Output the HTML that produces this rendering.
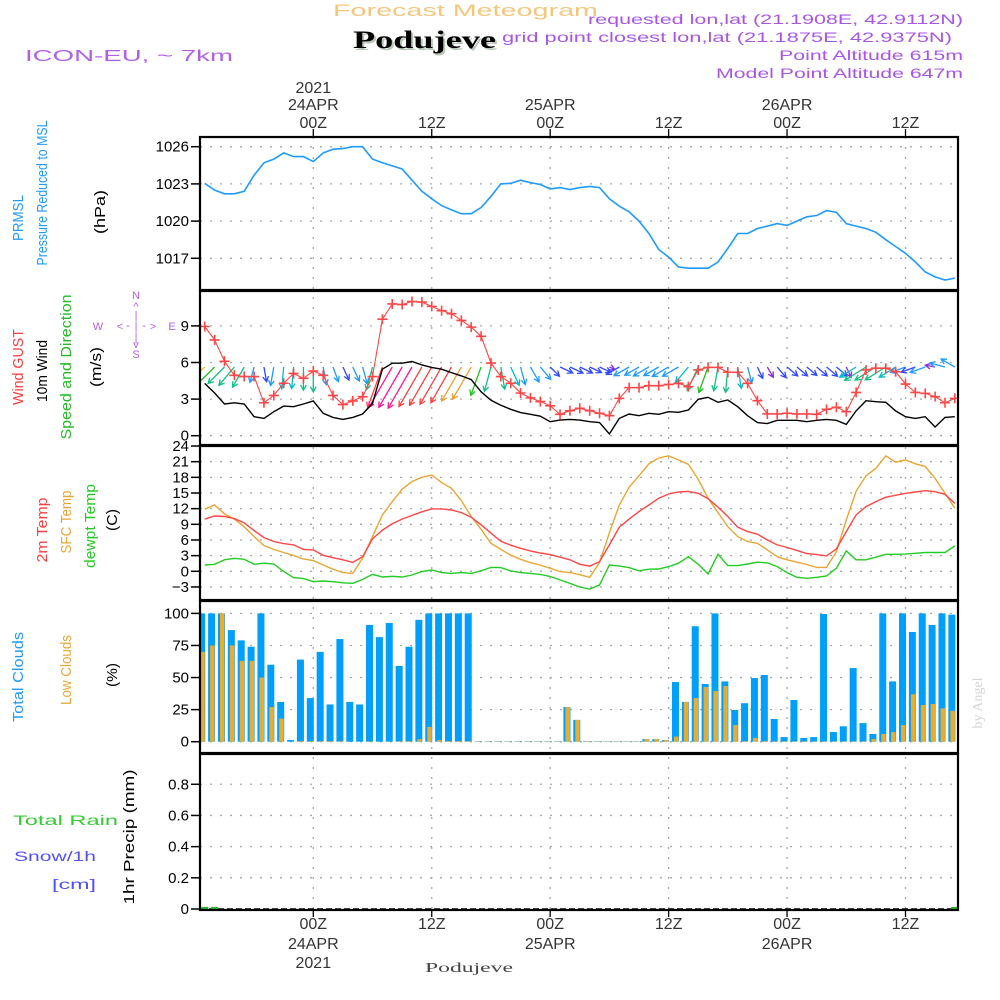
<!DOCTYPE html>
<html><head><meta charset="utf-8"><title>Forecast Meteogram Podujeve</title>
<style>
html,body{margin:0;padding:0;background:#fff;}
svg{display:block;font-family:"Liberation Sans",sans-serif;}
</style></head>
<body>
<svg id="chart" width="1000" height="1000" viewBox="0 0 1000 1000" xmlns="http://www.w3.org/2000/svg">
<rect x="0" y="0" width="1000" height="1000" fill="#fff"/>
<text x="333" y="16" font-size="17" fill="#f5c67e" textLength="265" lengthAdjust="spacingAndGlyphs">Forecast Meteogram</text>
<text x="355" y="50" font-size="25" font-weight="bold" font-family="Liberation Serif,serif" fill="#b9c9b9" textLength="143" lengthAdjust="spacingAndGlyphs">Podujeve</text>
<text x="353" y="48" font-size="25" font-weight="bold" font-family="Liberation Serif,serif" fill="#000" textLength="143" lengthAdjust="spacingAndGlyphs">Podujeve</text>
<text x="25" y="61" font-size="16" fill="#b060e8" textLength="208" lengthAdjust="spacingAndGlyphs">ICON-EU, ~ 7km</text>
<text x="588" y="24" font-size="14" fill="#a855e8" textLength="375" lengthAdjust="spacingAndGlyphs">requested lon,lat (21.1908E, 42.9112N)</text>
<text x="502" y="42" font-size="14" fill="#a855e8" textLength="450" lengthAdjust="spacingAndGlyphs">grid point closest lon,lat (21.1875E, 42.9375N)</text>
<text x="779" y="60" font-size="14" fill="#a855e8" textLength="184" lengthAdjust="spacingAndGlyphs">Point Altitude 615m</text>
<text x="716" y="78" font-size="14" fill="#a855e8" textLength="247" lengthAdjust="spacingAndGlyphs">Model Point Altitude 647m</text>

<!-- left labels -->
<g font-size="15" text-anchor="middle">
<text transform="translate(23,218) rotate(-90)" fill="#1e9bff" textLength="46" lengthAdjust="spacingAndGlyphs">PRMSL</text>
<text transform="translate(47,193) rotate(-90)" fill="#1e9bff" textLength="145" lengthAdjust="spacingAndGlyphs">Pressure Reduced to MSL</text>
<text transform="translate(105,212) rotate(-90)" fill="#000" textLength="44" lengthAdjust="spacingAndGlyphs">(hPa)</text>
<text transform="translate(23,367) rotate(-90)" fill="#ff3b3b" textLength="76" lengthAdjust="spacingAndGlyphs">Wind GUST</text>
<text transform="translate(47,371) rotate(-90)" fill="#000" textLength="62" lengthAdjust="spacingAndGlyphs">10m Wind</text>
<text transform="translate(71,367) rotate(-90)" fill="#22bb22" textLength="145" lengthAdjust="spacingAndGlyphs">Speed and Direction</text>
<text transform="translate(101,367) rotate(-90)" fill="#000" textLength="40" lengthAdjust="spacingAndGlyphs">(m/s)</text>
<text transform="translate(47,530) rotate(-90)" fill="#ff3b3b" textLength="65" lengthAdjust="spacingAndGlyphs">2m Temp</text>
<text transform="translate(71,522) rotate(-90)" fill="#eaa632" textLength="63" lengthAdjust="spacingAndGlyphs">SFC Temp</text>
<text transform="translate(95,526) rotate(-90)" fill="#22cc22" textLength="84" lengthAdjust="spacingAndGlyphs">dewpt Temp</text>
<text transform="translate(117,520) rotate(-90)" fill="#000" textLength="22" lengthAdjust="spacingAndGlyphs">(C)</text>
<text transform="translate(23,677) rotate(-90)" fill="#1e9bff" textLength="90" lengthAdjust="spacingAndGlyphs">Total Clouds</text>
<text transform="translate(71,670) rotate(-90)" fill="#eaa632" textLength="70" lengthAdjust="spacingAndGlyphs">Low Clouds</text>
<text transform="translate(117,675) rotate(-90)" fill="#000" textLength="24" lengthAdjust="spacingAndGlyphs">(%)</text>
<text transform="translate(134,837) rotate(-90)" fill="#000" textLength="135" lengthAdjust="spacingAndGlyphs">1hr Precip (mm)</text>
</g>
<text x="13" y="825" font-size="14" fill="#33cc33" textLength="105" lengthAdjust="spacingAndGlyphs">Total   Rain</text>
<text x="14" y="861" font-size="14" fill="#5050ff" textLength="82" lengthAdjust="spacingAndGlyphs">Snow/1h</text>
<text x="52" y="889" font-size="14" fill="#5050ff" textLength="44" lengthAdjust="spacingAndGlyphs">[cm]</text>
<g font-size="11" fill="#b060e8" text-anchor="middle">
<text x="136" y="299">N</text><text x="136" y="310">^</text><text x="136" y="319">|</text>
<text x="98" y="330">W</text><text x="120" y="330">&lt;</text><text x="128" y="329">-</text><text x="136" y="330">|</text><text x="144" y="329">-</text><text x="153" y="330">&gt;</text><text x="172" y="330">E</text>
<text x="136" y="341">|</text><text x="136" y="348">v</text><text x="136" y="358">S</text>
</g>
<text transform="translate(982,703) rotate(-90)" font-size="14" font-family="Liberation Serif,serif" fill="#d4d4d4" text-anchor="middle">by Angel</text>
<text x="425" y="972" font-size="14" font-family="Liberation Serif,serif" fill="#444" textLength="88" lengthAdjust="spacingAndGlyphs">Podujeve</text>
<g id="dyn"></g>
</svg>
<script>
// ---- data (hourly, starting 23APR 13Z) ----
const pressure=[1023.05,1022.5,1022.2,1022.2,1022.4,1023.7,1024.7,1025.0,1025.5,1025.2,1025.2,1024.8,1025.5,1025.8,1025.85,1026,1026,1025.0,1024.7,1024.45,1024.2,1023.3,1022.4,1021.8,1021.25,1020.9,1020.6,1020.6,1021.1,1022.0,1023.0,1023.05,1023.3,1023.1,1022.95,1022.6,1022.7,1022.55,1022.7,1022.8,1022.7,1021.8,1021.2,1020.75,1020.0,1019.0,1017.7,1017.1,1016.3,1016.2,1016.2,1016.2,1016.7,1017.8,1019.0,1019.0,1019.4,1019.6,1019.8,1019.65,1020.0,1020.35,1020.45,1020.85,1020.7,1019.8,1019.6,1019.4,1019.1,1018.5,1017.95,1017.4,1016.7,1015.9,1015.5,1015.25,1015.4];
const gust=[8.95,7.85,6.1,4.95,4.85,4.85,2.7,3.3,4.3,5.1,4.7,5.3,4.95,3.3,2.55,2.85,3.2,4.85,9.55,10.8,10.75,11.0,10.95,10.6,10.25,10.0,9.45,8.9,8.15,5.95,4.85,4.3,3.5,3.1,2.8,2.45,1.75,2.05,2.25,2.05,1.84,1.64,3.06,3.94,3.94,4.1,4.1,4.2,4.29,4.02,5.39,5.6,5.6,5.2,5.2,4.29,2.87,1.78,1.78,1.84,1.78,1.78,1.75,2.16,2.33,1.97,3.55,5.39,5.53,5.53,5.25,4.23,3.55,3.47,3.2,2.7,3.06];
const wind=[4.29,3.5,2.6,2.7,2.6,1.56,1.42,1.97,2.43,2.38,2.6,2.85,1.84,1.5,1.34,1.5,1.78,2.65,5.45,5.94,5.94,6.08,5.8,5.6,5.45,5.17,4.9,4.6,3.6,2.9,2.5,2.16,1.89,1.75,1.6,1.15,1.28,1.34,1.28,1.15,1.07,0.14,1.42,1.78,1.64,1.84,1.75,1.97,1.92,2.11,2.98,3.15,2.74,2.93,2.38,1.64,1.07,0.99,1.26,1.26,1.26,1.15,1.26,1.34,1.26,0.93,2.03,2.87,2.79,2.74,2.03,1.56,1.42,1.56,0.71,1.5,1.56];
const windDir=[50,45,45,40,30,15,350,10,5,5,0,0,350,340,335,335,345,15,20,30,30,30,30,30,30,30,30,30,20,15,350,335,345,330,320,315,295,295,295,295,295,295,60,60,60,60,60,60,60,40,25,20,10,5,350,345,335,330,320,310,310,310,310,310,310,335,58,58,58,58,58,70,70,70,100,105,120];
const temp2m=[10.0,10.6,10.5,10.1,9.3,7.8,6.45,5.7,5.3,5.05,4.2,4.1,3.07,2.6,2.2,1.7,2.8,6.2,7.9,9.1,10.0,10.7,11.4,11.95,11.95,11.75,11.25,10.35,8.9,7.3,5.75,5.0,4.4,3.9,3.5,3.2,2.7,2.2,1.35,1.0,1.85,5.05,8.45,10.0,11.45,12.7,14.0,14.8,15.2,15.3,14.95,13.9,12.3,10.5,8.45,7.6,7.1,6.0,5.05,4.55,4.0,3.4,3.2,2.95,4.3,7.6,10.8,12.4,13.35,14.2,14.55,14.95,15.2,15.45,15.25,14.75,13.0];
const tempSfc=[11.9,12.7,11.0,10.0,8.55,6.65,4.9,4.2,3.6,3.0,2.35,2.05,1.2,0.4,-0.25,-0.4,2.5,6.65,10.8,13.35,15.7,17.2,18.0,18.45,17.0,15.9,13.5,10.5,8.05,5.35,4.2,3.1,2.3,1.65,1.2,0.6,-0.05,-0.25,-0.65,-1.15,1.65,7.4,12.7,16.1,18.3,20.6,21.7,22.1,21.35,20.5,17.6,14.0,11.25,8.55,6.65,5.7,5.35,4.1,2.8,2.2,1.75,1.3,0.75,0.75,3.75,9.85,15.3,18.3,19.75,22.1,20.9,21.35,20.6,20.1,17.8,14.95,12.1];
const dewpt=[1.2,1.35,2.2,2.5,2.3,1.35,1.55,1.4,-0.05,-1.2,-1.4,-2.0,-1.85,-2.0,-2.2,-2.3,-1.55,-0.6,-1.1,-0.95,-1.1,-0.7,-0.05,0.25,-0.25,-0.4,-0.25,-0.4,0.1,0.75,0.7,0.05,-0.25,-0.4,-0.6,-1.0,-1.65,-2.3,-3.0,-3.4,-2.6,1.2,1.0,0.7,0.1,0.4,0.45,0.9,1.55,2.8,1.35,-0.5,3.25,1.1,1.1,1.4,1.75,1.6,0.9,-0.25,-1.15,-1.35,-1.15,-0.9,0.6,3.9,2.2,2.2,2.7,3.25,3.25,3.3,3.45,3.6,3.6,3.6,4.85];
const totalClouds=[100,100,100,87,79,74,100,60,31,1.3,64,34,70,29,80,31,29,91,81.5,92.5,59,74,95,100,100,100,100,100,0.3,0.3,0.3,0.3,0.3,0.3,0.3,0.3,0.3,27,17,0.5,0.3,0.3,0.3,0.3,0.3,2,2,1.3,46.5,31,90,45,100,47,24.7,30,49.6,52,17.7,3.6,32.5,2.9,3.6,99.5,7.5,12,57.4,14.5,6,100,47,100,85.5,100,91,100,99];
const lowClouds=[70,75,100,75,63,63,50,27,18,0,0.5,0.5,0.5,0.5,0.5,0,0,0.3,0,0,0.5,0.5,2,11.5,1.3,0.5,0.5,0.5,0.3,0.3,0.3,0.3,0.3,0.3,0.3,0.3,0.3,27,17,0.5,0.3,0.3,0.3,0.3,0.3,2,2,1.3,4,31,34,42.6,39.5,43.4,13,0.5,3,0.5,0.3,0.3,0.3,0.3,0.3,0.3,0.3,0.3,0.3,0.3,2,6,7.5,13,37,28.6,29.4,26,24];
const precip=[0.004,0.004,0,0,0,0,0,0,0,0,0,0,0,0,0,0,0,0,0,0,0,0,0,0,0,0,0,0,0,0,0,0,0,0,0,0,0,0,0,0,0,0,0,0,0,0,0,0,0,0,0,0,0,0,0,0,0,0,0,0,0,0,0,0,0,0,0,0,0,0,0,0,0,0,0,0,0.004];
const pressureTicks=[1026,1023,1020,1017];
const windTicks=[9,6,3,0];
const tempTicks=[24,21,18,15,12,9,6,3,0,-3];
const cloudTicks=[100,75,50,25,0];
const precipTicks=["0.8","0.6","0.4","0.2","0"];
const timeTicksHours=[11,23,35,47,59,71];
const topTimeLabels=[["2021","24APR","00Z"],["","","12Z"],["","25APR","00Z"],["","","12Z"],["","26APR","00Z"],["","","12Z"]];
const bottomTimeLabels=[["00Z","24APR","2021"],["12Z","",""],["00Z","25APR",""],["12Z","",""],["00Z","26APR",""],["12Z","",""]];

// ---- scales ----
const X0=200,X1=958;
const x=h=>313.3+9.87*(h-11);
const yP=p=>146.7+(1026-p)*12.4;
const yW=v=>435.7-v*12.2;
const yT=t=>571.3-t*5.22;
const yC=c=>741.7-c*1.283;
const yR=r=>909-r*155.9;
const panels=[[137,290],[291,445],[446,600],[601,753],[754,910]];

const NS="http://www.w3.org/2000/svg";
const root=document.getElementById('dyn');
function mk(tag,attrs,parent){const e=document.createElementNS(NS,tag);for(const k in attrs)e.setAttribute(k,attrs[k]);(parent||root).appendChild(e);return e;}

const defs=mk('defs',{});
panels.forEach((p,i)=>{const c=mk('clipPath',{id:'clip'+i},defs);mk('rect',{x:X0,y:p[0],width:X1-X0,height:p[1]-p[0]},c);});

function hgrid(vals,fy,name){vals.forEach(v=>{const l=mk('line',{x1:X0,x2:X1,y1:fy(v),y2:fy(v),stroke:'#a8a8a8','stroke-width':1.3,'stroke-dasharray':'2,8'});

});}
hgrid(pressureTicks,yP,'pressure-gridline');
hgrid(windTicks,yW,'wind-gridline');
hgrid(tempTicks,yT,'temp-gridline');
hgrid(cloudTicks,yC,'cloud-gridline');
hgrid(precipTicks.map(Number).filter(v=>v>0),yR,'precip-gridline');
timeTicksHours.forEach(h=>{const l=mk('line',{x1:x(h),x2:x(h),y1:137,y2:910,stroke:'#a8a8a8','stroke-width':1.3,'stroke-dasharray':'2,8'});

});

function yticks(vals,fy,name){vals.forEach(v=>{const y=fy(Number(v));
mk('line',{x1:191,x2:200,y1:y,y2:y,stroke:'#000','stroke-width':1.5});
const t=mk('text',{x:189,y:y+5,'font-size':15,'text-anchor':'end',fill:'#000'});t.textContent=String(v).replace('-','\u2212');

});}
yticks(pressureTicks,yP,'pressure-tick-label');
yticks(windTicks,yW,'wind-tick-label');
yticks(tempTicks,yT,'temp-tick-label');
yticks(cloudTicks,yC,'cloud-tick-label');
yticks(precipTicks,yR,'precip-tick-label');

timeTicksHours.forEach((h,i)=>{const cx=x(h);
mk('line',{x1:cx,x2:cx,y1:129,y2:137,stroke:'#000','stroke-width':1.3});
mk('line',{x1:cx,x2:cx,y1:910,y2:917,stroke:'#000','stroke-width':1.3});
[93,110,128].forEach((yy,j)=>{const s=topTimeLabels[i][j];if(!s)return;const t=mk('text',{x:cx,y:yy,'font-size':16,'text-anchor':'middle',fill:'#333'});t.textContent=s;

});
[929,949,968].forEach((yy,j)=>{const s=bottomTimeLabels[i][j];if(!s)return;const t=mk('text',{x:cx,y:yy,'font-size':16,'text-anchor':'middle',fill:'#333'});t.textContent=s;

});
});

function path(arr,fy){return arr.map((v,i)=>(i?'L':'M')+x(i).toFixed(1)+','+fy(v).toFixed(1)).join('');}

const pl=mk('path',{d:path(pressure,yP),fill:'none',stroke:'#1e9bff','stroke-width':1.6,'clip-path':'url(#clip0)'});



function wcol(s){if(s<1)return'#8a2be2';if(s<1.5)return'#3048ff';if(s<2)return'#1e9bff';if(s<2.5)return'#00bcc8';if(s<3)return'#10c080';if(s<3.7)return'#20c020';if(s<4.5)return'#e0c800';if(s<5)return'#eda030';if(s<5.9)return'#ff4040';return'#ff1493';}
const ag=mk('g',{'clip-path':'url(#clip1)'});


wind.forEach((s,i)=>{const to=(windDir[i]+180)*Math.PI/180;const L=5+7*s;
const x0=x(i),y0=367;const dx=Math.sin(to),dy=-Math.cos(to);const x1=x0+dx*L,y1=y0+dy*L;
const a=0.5,hl=6;const c=wcol(s);
const h1x=x1-hl*(dx*Math.cos(a)-dy*Math.sin(a)),h1y=y1-hl*(dy*Math.cos(a)+dx*Math.sin(a));
const h2x=x1-hl*(dx*Math.cos(a)+dy*Math.sin(a)),h2y=y1-hl*(dy*Math.cos(a)-dx*Math.sin(a));
const p=mk('path',{d:`M${x0},${y0}L${x1},${y1}M${h1x},${h1y}L${x1},${y1}L${h2x},${h2y}`,stroke:c,'stroke-width':1.3,fill:'none'},ag);

});

const wl=mk('path',{d:path(wind,yW),fill:'none',stroke:'#000','stroke-width':1.4,'clip-path':'url(#clip1)'});


const gl=mk('path',{d:path(gust,yW),fill:'none',stroke:'#ff4545','stroke-width':1.1,'clip-path':'url(#clip1)'});


gust.forEach((v,i)=>{const cx=x(i),cy=yW(v);const m=mk('path',{d:`M${cx-5},${cy}H${cx+5}M${cx},${cy-5}V${cy+5}`,stroke:'#ff4545','stroke-width':1.6,'clip-path':'url(#clip1)'});

});

[[tempSfc,'#eaa632','sfc-temp-line'],[temp2m,'#ff4545','temp-2m-line'],[dewpt,'#22cc22','dewpoint-line']].forEach(([a,c,n])=>{
const l=mk('path',{d:path(a,yT),fill:'none',stroke:c,'stroke-width':1.4,'clip-path':'url(#clip2)'});

});

totalClouds.forEach((v,i)=>{const cx=x(i)-3;const r=mk('rect',{x:cx-3.5,y:yC(v),width:7,height:yC(0)-yC(v),fill:'#009ffa','clip-path':'url(#clip3)'});

});
lowClouds.forEach((v,i)=>{const cx=x(i)-3;const r=mk('rect',{x:cx-1.5,y:yC(v),width:4.5,height:yC(0)-yC(v),fill:'#e8ad2e','clip-path':'url(#clip3)'});

});

const zl=mk('line',{x1:X0,x2:X1,y1:yR(0),y2:yR(0),stroke:'#000','stroke-width':1.5,'stroke-dasharray':'6,3'});


precip.forEach((v,i)=>{if(v<=0)return;const r=mk('rect',{x:x(i)-3.5,y:yR(v)-1.5,width:7,height:yR(0)-yR(v)+1.5,fill:'#22bb22','clip-path':'url(#clip4)'});

});

panels.forEach((p,i)=>{const r=mk('rect',{x:X0,y:p[0],width:X1-X0,height:p[1]-p[0],fill:'none',stroke:'#000','stroke-width':2.2});

});
</script>
</body></html>
